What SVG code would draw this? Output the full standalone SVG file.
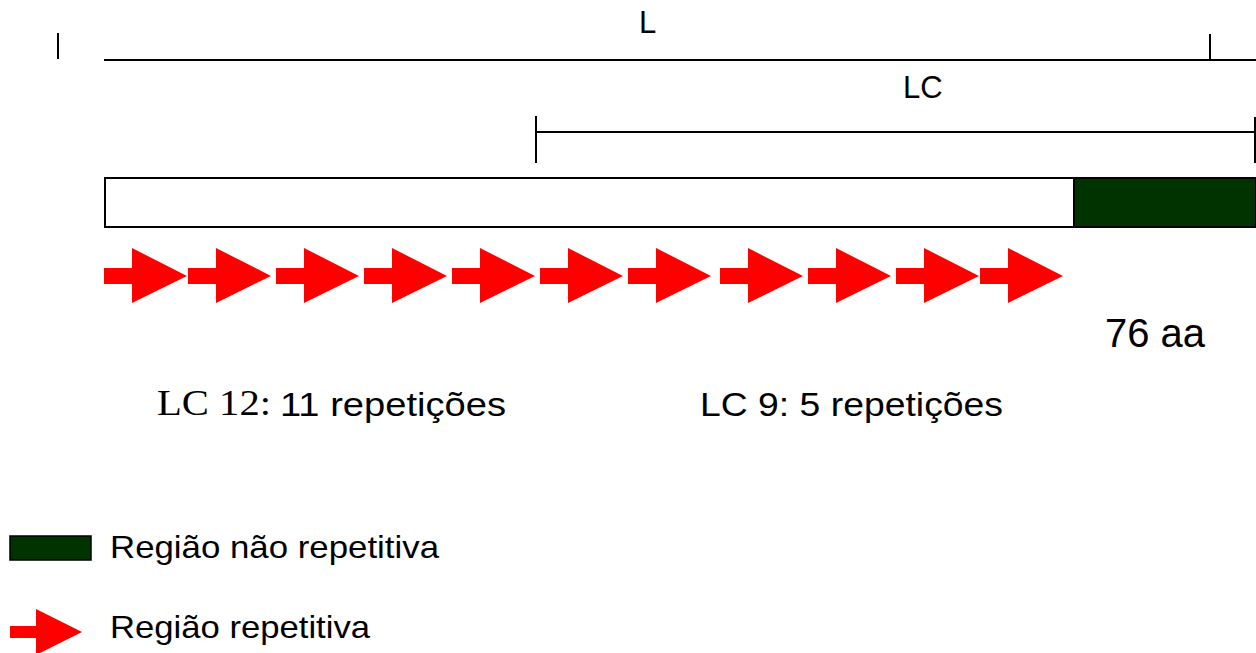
<svg xmlns="http://www.w3.org/2000/svg" xmlns:xlink="http://www.w3.org/1999/xlink" width="1256" height="653" viewBox="0 0 1256 653">
  <style>
    .rule { stroke: #000; stroke-width: 2; fill: none; }
    .sans { font-family: "Liberation Sans", Arial, sans-serif; fill: #000; }
    .serif { font-family: "Liberation Serif", "Times New Roman", serif; fill: #000; }
    .rep { fill: #ff0000; }
    .nonrep { fill: #003300; stroke: #000; }
  </style>
  <defs>
    <!-- one repeat unit: block arrow, origin at the shaft's left middle -->
    <path id="repeat" d="M0,-8 H28 V-28 L83,0 L28,27 V8 H0 Z"/>
  </defs>
  <rect width="1256" height="653" fill="#fff"/>

  <g id="scale-L">
    <line class="rule" x1="58" y1="33" x2="58" y2="59"/>
    <line class="rule" x1="104" y1="60" x2="1256" y2="60"/>
    <line class="rule" x1="1210" y1="34" x2="1210" y2="60"/>
    <text class="sans" x="639" y="33" font-size="31">L</text>
  </g>

  <g id="scale-LC">
    <line class="rule" x1="536" y1="132" x2="1256" y2="132"/>
    <line class="rule" x1="536" y1="116" x2="536" y2="163"/>
    <line class="rule" x1="1255" y1="117" x2="1255" y2="163" stroke="#555"/>
    <text class="sans" x="903" y="98" font-size="31">LC</text>
  </g>

  <g id="protein">
    <rect x="105" y="178" width="1151" height="49" fill="#fff" stroke="#000" stroke-width="2"/>
    <rect class="nonrep" x="1074" y="178" width="182" height="49" stroke-width="2"/>
  </g>

  <g id="repeats" class="rep">
    <use xlink:href="#repeat" x="104" y="276"/>
    <use xlink:href="#repeat" x="188" y="276"/>
    <use xlink:href="#repeat" x="276" y="276"/>
    <use xlink:href="#repeat" x="364" y="276"/>
    <use xlink:href="#repeat" x="452" y="276"/>
    <use xlink:href="#repeat" x="540" y="276"/>
    <use xlink:href="#repeat" x="628" y="276"/>
    <use xlink:href="#repeat" x="720" y="276"/>
    <use xlink:href="#repeat" x="808" y="276"/>
    <use xlink:href="#repeat" x="896" y="276"/>
    <use xlink:href="#repeat" x="980" y="276"/>
  </g>

  <g id="label-76aa">
    <text class="sans" x="1105" y="347" font-size="40">76 aa</text>
  </g>

  <g id="label-lc12">
    <text class="serif" x="157" y="415" font-size="35" textLength="114" lengthAdjust="spacingAndGlyphs">LC 12:</text>
    <text class="sans" x="280" y="416" font-size="33" textLength="226" lengthAdjust="spacingAndGlyphs">11 repetições</text>
  </g>

  <g id="label-lc9">
    <text class="sans" x="700" y="416" font-size="33" textLength="303" lengthAdjust="spacingAndGlyphs">LC 9: 5 repetições</text>
  </g>

  <g id="legend-nonrep">
    <rect class="nonrep" x="10" y="536" width="81" height="24" stroke-width="1.5"/>
    <text class="sans" x="110" y="558" font-size="32" textLength="329" lengthAdjust="spacingAndGlyphs">Região não repetitiva</text>
  </g>

  <g id="legend-rep">
    <path class="rep" d="M10,626 H36 V609 L82,632 L36,655 V638 H10 Z"/>
    <text class="sans" x="110" y="638" font-size="32" textLength="260" lengthAdjust="spacingAndGlyphs">Região repetitiva</text>
  </g>
</svg>
